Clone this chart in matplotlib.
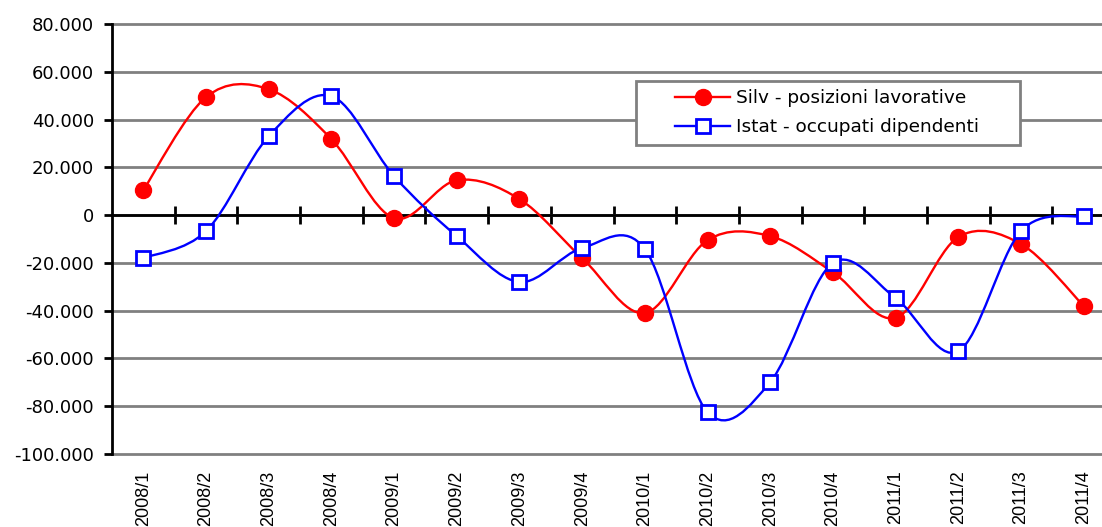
import numpy as np
import matplotlib.pyplot as plt
from matplotlib.path import Path
from matplotlib.patches import PathPatch, Rectangle
from matplotlib.lines import Line2D
from matplotlib.ticker import FuncFormatter

# Quarterly changes
quarters = ['2008/1', '2008/2', '2008/3', '2008/4', '2009/1', '2009/2', '2009/3', '2009/4',
            '2010/1', '2010/2', '2010/3', '2010/4', '2011/1', '2011/2', '2011/3', '2011/4']
silv = [10500, 49400, 52700, 31800, -1300, 14600, 6700, -18000,
        -41000, -10500, -8800, -23900, -43000, -9200, -12100, -38000]
istat = [-18000, -6700, 33000, 49800, 16300, -8800, -28000, -13800,
         -14200, -82500, -69900, -20000, -34700, -57000, -6700, -400]

silv_label = 'Silv - posizioni lavorative'
istat_label = 'Istat - occupati dipendenti'


def smooth_path(x, y):
    # Excel-like smoothed line: cubic Bezier segments through every point
    pts = np.column_stack([x, y]).astype(float)
    ext = np.vstack([pts[0], pts, pts[-1]])
    verts = [pts[0]]
    codes = [Path.MOVETO]
    for i in range(len(pts) - 1):
        p0, p1, p2, p3 = ext[i], ext[i + 1], ext[i + 2], ext[i + 3]
        verts += [p1 + (p2 - p0) / 6, p2 - (p3 - p1) / 6, p2]
        codes += [Path.CURVE4] * 3
    return Path(verts, codes)


W, H = 1102, 527
fig = plt.figure(figsize=(W / 100, H / 100), dpi=100)
ax = fig.add_axes([112 / W, (H - 454) / H, (1115 - 112) / W, (454 - 24) / H])

x = np.arange(len(quarters))
ax.set_xlim(-0.5, len(quarters) - 0.5)
ax.set_ylim(-100000, 80000)
ax.set_yticks(np.arange(-100000, 80001, 20000))
ax.yaxis.set_major_formatter(FuncFormatter(lambda v, p: f'{int(v):,}'.replace(',', '.')))
ax.grid(axis='y', color='#808080', linewidth=2)
for gl in ax.get_ygridlines():
    gl.set_clip_on(False)
ax.set_axisbelow(True)

for s in ['top', 'right', 'bottom']:
    ax.spines[s].set_visible(False)
ax.spines['left'].set_linewidth(2)
ax.spines['left'].set_zorder(3)
ax.tick_params(axis='y', direction='out', length=6, width=2, pad=7, labelsize=13)

ax.set_xticks(x)
ax.set_xticklabels(quarters, rotation=90, fontfamily='Liberation Sans', fontsize=13)
ax.tick_params(axis='x', length=0, pad=12)

# zero axis with tick marks between categories
ax.axhline(0, color='black', linewidth=2, zorder=2)
sec = ax.secondary_xaxis(100 / 180)
sec.spines['bottom'].set_visible(False)
sec.set_xticks(x[:-1] + 0.5)
sec.set_xticklabels([])
sec.tick_params(axis='x', direction='inout', length=13, width=2)

ax.add_patch(PathPatch(smooth_path(x, silv), facecolor='none', edgecolor='red', linewidth=1.7, zorder=3))
ax.plot(x, silv, 'o', color='red', markersize=11.5, zorder=4)
ax.add_patch(PathPatch(smooth_path(x, istat), facecolor='none', edgecolor='blue', linewidth=1.7, zorder=5))
ax.plot(x, istat, 's', color='blue', markerfacecolor='white', markeredgewidth=2,
        markersize=10, zorder=6)

# legend box (Excel style, wide padding)
fig.patches.append(Rectangle((636 / W, (H - 145) / H), (1020 - 636) / W, 64 / H,
                             transform=fig.transFigure, facecolor='white',
                             edgecolor='#808080', linewidth=2, zorder=10))
handles = [Line2D([], [], color='red', linewidth=1.7, marker='o', markersize=11.5),
           Line2D([], [], color='blue', linewidth=1.7, marker='s', markersize=10,
                  markerfacecolor='white', markeredgewidth=2)]
leg = fig.legend(handles, [silv_label, istat_label], loc='upper left',
                 bbox_to_anchor=(675 / W, (H - 89) / H), frameon=False,
                 fontsize=13.3, handlelength=3.0, handletextpad=0.3,
                 borderpad=0, labelspacing=0.62, borderaxespad=0)
leg.set_zorder(11)

plt.savefig('out.png', dpi=100)
